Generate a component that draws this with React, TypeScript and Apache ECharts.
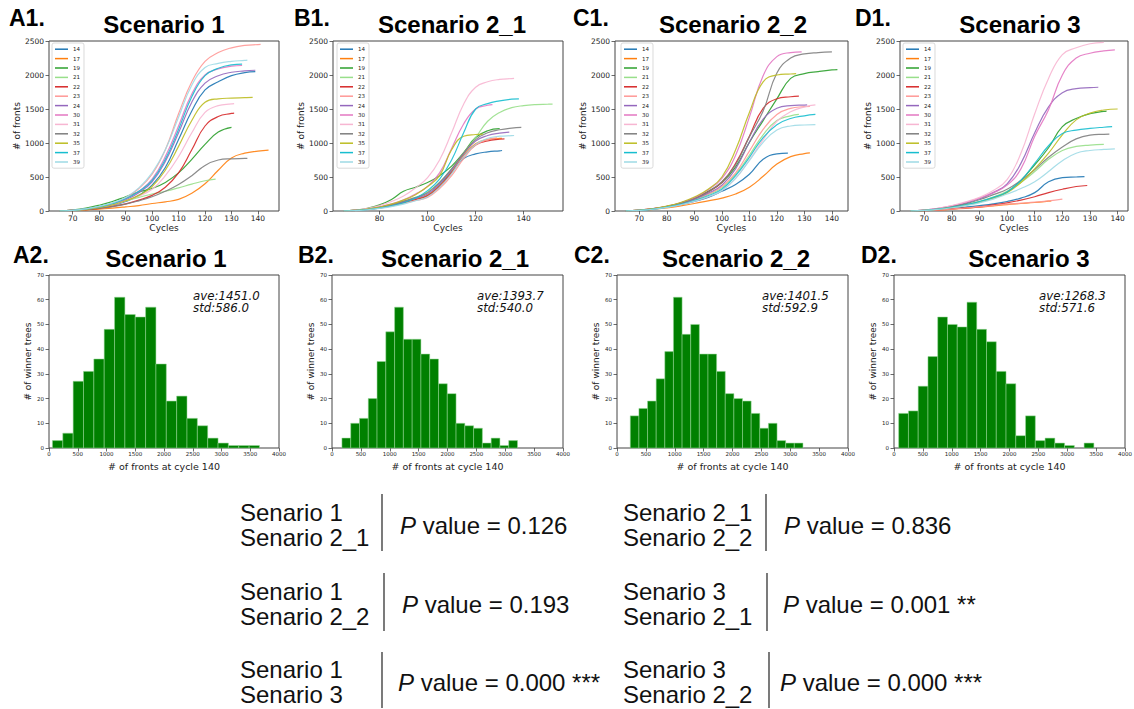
import React, { useEffect, useRef } from "react";
import * as echarts from "echarts";

// ---------- growth curves (# of fronts per cycle) ----------
const LINE_NAMES = ["14", "17", "19", "21", "22", "23", "24", "30", "31", "32", "35", "37", "39"];
const LINE_COLORS = [
  "#1f77b4", "#ff7f0e", "#2ca02c", "#98df8a", "#d62728", "#ff9896", "#9467bd",
  "#e377c2", "#f7b6d2", "#7f7f7f", "#bcbd22", "#17becf", "#9edae5",
];

// values are sampled every 5 cycles from cycle 65; the last entry of a row is the value at that tree's last cycle
const FIRST_CYCLE = 65;
const CYCLE_STEP = 5;

const S1_LAST_CYCLE = [139, 144, 130, 124, 131, 141, 139, 134, 131, 136, 138, 134, 136];
const S1_FRONTS = [
  [0, 8, 22, 48, 85, 140, 230, 380, 640, 1050, 1470, 1780, 1900, 1990, 2035, 2050],
  [0, 5, 14, 28, 42, 60, 80, 110, 135, 170, 260, 400, 600, 780, 850, 880, 895],
  [0, 15, 42, 85, 140, 210, 280, 330, 420, 560, 760, 980, 1160, 1230],
  [0, 10, 28, 60, 100, 150, 200, 250, 290, 340, 395, 445, 470],
  [0, 8, 20, 40, 68, 105, 160, 230, 350, 560, 900, 1250, 1390, 1435, 1440],
  [0, 10, 30, 62, 110, 190, 330, 540, 900, 1430, 1900, 2200, 2330, 2400, 2435, 2448, 2450],
  [0, 9, 26, 56, 100, 165, 270, 430, 730, 1150, 1600, 1880, 1990, 2040, 2060, 2070],
  [0, 10, 28, 60, 105, 175, 290, 470, 800, 1250, 1720, 2000, 2090, 2130, 2140],
  [0, 8, 24, 52, 90, 150, 220, 320, 520, 800, 1150, 1450, 1550, 1575, 1580],
  [0, 8, 20, 40, 65, 100, 150, 210, 290, 390, 520, 670, 750, 768, 773, 775],
  [0, 8, 24, 52, 90, 150, 230, 360, 600, 950, 1330, 1600, 1650, 1660, 1666, 1670],
  [0, 10, 30, 62, 110, 180, 290, 450, 760, 1200, 1680, 1990, 2100, 2150, 2160],
  [0, 10, 32, 68, 120, 200, 340, 560, 900, 1380, 1850, 2110, 2170, 2200, 2215, 2220],
];

const S21_LAST_CYCLE = [131, 131, 130, 152, 132, 129, 134, 127, 136, 139, 123, 138, 136];
const S21_FRONTS = [
  [0, 8, 25, 50, 85, 130, 180, 230, 380, 580, 770, 840, 870, 885, 890],
  [0, 8, 24, 48, 80, 125, 170, 230, 370, 570, 820, 990, 1050, 1068, 1070],
  [0, 12, 40, 90, 170, 290, 350, 420, 520, 660, 860, 1080, 1180, 1210],
  [0, 8, 24, 50, 85, 130, 190, 280, 420, 620, 850, 1080, 1320, 1450, 1520, 1550, 1565, 1570, 1572],
  [0, 7, 22, 45, 78, 120, 165, 220, 360, 560, 800, 970, 1030, 1055, 1060],
  [0, 7, 20, 42, 72, 110, 155, 200, 330, 520, 770, 970, 1050, 1075],
  [0, 8, 25, 52, 88, 135, 185, 250, 400, 600, 840, 1030, 1110, 1145, 1160],
  [0, 10, 30, 62, 105, 165, 250, 360, 560, 920, 1280, 1500, 1555, 1565],
  [0, 12, 38, 80, 140, 220, 340, 490, 750, 1150, 1570, 1820, 1900, 1935, 1948, 1950],
  [0, 8, 26, 55, 95, 145, 200, 270, 420, 620, 850, 1050, 1150, 1195, 1220, 1230],
  [0, 9, 28, 58, 100, 160, 240, 360, 520, 900, 1100, 1125, 1130],
  [0, 7, 20, 42, 75, 120, 190, 300, 470, 750, 1150, 1500, 1580, 1620, 1645, 1650],
  [0, 6, 18, 38, 65, 100, 150, 210, 350, 550, 800, 980, 1070, 1100, 1108, 1110],
];

const S22_LAST_CYCLE = [124, 132, 142, 128, 128, 132, 131, 129, 134, 140, 127, 134, 134];
const S22_FRONTS = [
  [0, 10, 28, 55, 90, 140, 200, 290, 390, 540, 760, 840, 850],
  [0, 8, 22, 45, 75, 110, 150, 190, 250, 350, 510, 690, 800, 845, 855],
  [0, 12, 32, 65, 115, 190, 290, 420, 650, 1010, 1330, 1650, 1950, 2020, 2050, 2075, 2080],
  [0, 10, 30, 60, 100, 160, 240, 340, 540, 820, 1120, 1330, 1400, 1420],
  [0, 12, 34, 68, 115, 185, 280, 420, 700, 1100, 1510, 1650, 1680, 1690],
  [0, 10, 30, 62, 105, 170, 250, 360, 560, 880, 1200, 1420, 1510, 1535, 1540],
  [0, 11, 32, 65, 110, 175, 260, 380, 620, 1010, 1350, 1510, 1550, 1558, 1560],
  [0, 12, 35, 70, 120, 195, 310, 480, 820, 1380, 1990, 2270, 2330, 2340],
  [0, 9, 26, 54, 90, 145, 210, 300, 480, 750, 1050, 1320, 1460, 1530, 1560],
  [0, 11, 32, 66, 112, 180, 280, 430, 680, 1090, 1470, 2030, 2250, 2310, 2330, 2340],
  [0, 13, 36, 72, 125, 205, 320, 500, 900, 1450, 1900, 2000, 2015, 2020],
  [0, 9, 28, 58, 98, 155, 225, 320, 520, 790, 1080, 1270, 1360, 1400, 1420],
  [0, 9, 26, 54, 92, 145, 210, 300, 480, 740, 1010, 1190, 1250, 1265, 1270],
];

const S3_LAST_CYCLE = [128, 116, 136, 135, 129, 120, 133, 139, 135, 137, 140, 138, 139];
const S3_FRONTS = [
  [0, 8, 20, 38, 58, 80, 105, 140, 190, 270, 430, 490, 500, 505],
  [0, 5, 14, 26, 40, 55, 75, 95, 110, 125, 145, 150],
  [0, 10, 28, 55, 90, 135, 195, 280, 450, 680, 930, 1240, 1360, 1430, 1465, 1470],
  [0, 10, 28, 56, 92, 140, 205, 290, 420, 580, 760, 890, 950, 970, 980],
  [0, 6, 16, 30, 45, 62, 90, 120, 160, 210, 270, 320, 360, 375],
  [0, 6, 15, 28, 44, 60, 80, 100, 115, 130, 150, 175],
  [0, 12, 34, 68, 115, 180, 270, 400, 700, 1150, 1530, 1740, 1800, 1815, 1820],
  [0, 13, 38, 75, 125, 190, 270, 380, 620, 1100, 1490, 2000, 2250, 2320, 2355, 2370],
  [0, 14, 40, 80, 135, 200, 300, 460, 850, 1430, 1950, 2300, 2400, 2460, 2480],
  [0, 10, 30, 62, 105, 165, 240, 320, 450, 610, 790, 940, 1060, 1115, 1128, 1130],
  [0, 9, 26, 52, 86, 130, 190, 270, 420, 620, 850, 1120, 1340, 1440, 1485, 1500],
  [0, 10, 28, 56, 92, 138, 200, 280, 450, 700, 960, 1140, 1190, 1215, 1232, 1240],
  [0, 9, 24, 48, 80, 120, 175, 250, 330, 430, 580, 740, 850, 890, 905, 915],
];

const CYCLE_TICKS_A = [70, 80, 90, 100, 110, 120, 130, 140];
const CYCLE_TICKS_B = [80, 100, 120, 140];

// ---------- histograms of fronts at cycle 140 ----------
const S1_BIN_START = 60;
const S1_BIN_WIDTH = 180;
const S1_COUNTS = [3, 6, 27, 31, 36, 48, 61, 54, 53, 57, 34, 19, 21, 12, 9, 4, 2, 1, 1, 1];
const S1_STATS = ["ave:1451.0", "std:586.0"];

const S21_BIN_START = 172;
const S21_BIN_WIDTH = 152;
const S21_COUNTS = [4, 10, 12, 20, 35, 47, 57, 44, 44, 38, 36, 26, 22, 10, 9, 8, 2, 4, 1, 3];
const S21_STATS = ["ave:1393.7", "std:540.0"];

const S22_BIN_START = 230;
const S22_BIN_WIDTH = 149.5;
const S22_COUNTS = [13, 16, 19, 28, 39, 61, 46, 50, 38, 38, 31, 22, 20, 19, 14, 8, 10, 3, 2, 2];
const S22_STATS = ["ave:1401.5", "std:592.9"];

const S3_BIN_START = 81;
const S3_BIN_WIDTH = 169;
const S3_COUNTS = [14, 15, 25, 37, 53, 50, 49, 59, 48, 43, 31, 26, 5, 13, 3, 4, 2, 1, 0, 2];
const S3_STATS = ["ave:1268.3", "std:571.6"];

// ---------- panel headings ----------
const SCENARIO_TITLES = ["Scenario 1", "Scenario 2_1", "Scenario 2_2", "Scenario 3"];
const TOP_TAGS = ["A1.", "B1.", "C1.", "D1."];
const BOTTOM_TAGS = ["A2.", "B2.", "C2.", "D2."];

// ---------- pairwise tests ----------
const LEFT_PAIRS = [
  ["Senario 1", "Senario 2_1"],
  ["Senario 1", "Senario 2_2"],
  ["Senario 1", "Senario 3"],
];
const LEFT_P = ["0.126", "0.193", "0.000 ***"];
const RIGHT_PAIRS = [
  ["Senario 2_1", "Senario 2_2"],
  ["Senario 3", "Senario 2_1"],
  ["Senario 3", "Senario 2_2"],
];
const RIGHT_P = ["0.836", "0.001 **", "0.000 ***"];

// ---------- layout ----------
const LINE_GRIDS = [
  { left: 49, top: 41, width: 230, height: 170 },
  { left: 333, top: 41, width: 230, height: 170 },
  { left: 615, top: 41, width: 233, height: 170 },
  { left: 900, top: 41, width: 228, height: 170 },
];
const LEGEND_LEFT = [52, 337, 621, 903];
const HIST_GRIDS = [
  { left: 49, top: 275, width: 230, height: 173 },
  { left: 332, top: 275, width: 231, height: 173 },
  { left: 617, top: 275, width: 231, height: 173 },
  { left: 894, top: 275, width: 231, height: 173 },
];

const MPL_FONT = "DejaVu Sans";
const HEAD_FONT = "Liberation Sans";
const FRAME = "#444";

function toPoints(lastCycles: number[], rows: number[][]) {
  return rows.map((vals, k) => {
    const pts = vals.slice(0, -1).map((v, i) => [FIRST_CYCLE + CYCLE_STEP * i, v]);
    pts.push([lastCycles[k], vals[vals.length - 1]]);
    return pts;
  });
}

function toBins(start: number, width: number, counts: number[]) {
  return counts.map((c, i) => [start + i * width, start + (i + 1) * width, c]);
}

const plainNumber = (v: number) => String(v);

function buildOption() {
  const curves = [
    { last: S1_LAST_CYCLE, rows: S1_FRONTS, ticks: CYCLE_TICKS_A },
    { last: S21_LAST_CYCLE, rows: S21_FRONTS, ticks: CYCLE_TICKS_B },
    { last: S22_LAST_CYCLE, rows: S22_FRONTS, ticks: CYCLE_TICKS_A },
    { last: S3_LAST_CYCLE, rows: S3_FRONTS, ticks: CYCLE_TICKS_A },
  ];
  const hists = [
    { bins: toBins(S1_BIN_START, S1_BIN_WIDTH, S1_COUNTS), stats: S1_STATS },
    { bins: toBins(S21_BIN_START, S21_BIN_WIDTH, S21_COUNTS), stats: S21_STATS },
    { bins: toBins(S22_BIN_START, S22_BIN_WIDTH, S22_COUNTS), stats: S22_STATS },
    { bins: toBins(S3_BIN_START, S3_BIN_WIDTH, S3_COUNTS), stats: S3_STATS },
  ];

  const grid: any[] = [];
  const xAxis: any[] = [];
  const yAxis: any[] = [];
  const series: any[] = [];
  const legend: any[] = [];

  const tickLabel = (size: number, margin: number) => ({
    fontFamily: MPL_FONT,
    fontSize: size,
    color: "#222",
    margin,
    formatter: plainNumber,
  });
  const tickStyle = { show: true, length: 3.5, lineStyle: { color: FRAME, width: 0.8 } };

  curves.forEach((c, p) => {
    const g = LINE_GRIDS[p];
    grid.push({
      ...g,
      show: true,
      borderColor: FRAME,
      borderWidth: 1,
      backgroundColor: "transparent",
      containLabel: false,
      outerBoundsMode: "none",
    });
    // matplotlib-style 5% padding on the cycle range
    const lo = FIRST_CYCLE;
    const hi = Math.max(...c.last);
    const pad = (hi - lo) * 0.05;
    xAxis.push({
      type: "value",
      gridIndex: p,
      min: lo - pad,
      max: hi + pad,
      name: "Cycles",
      nameLocation: "middle",
      nameGap: 12.5,
      nameTextStyle: { fontFamily: MPL_FONT, fontSize: 9, color: "#222" },
      axisLine: { show: false },
      axisTick: { ...tickStyle, customValues: c.ticks },
      axisLabel: { ...tickLabel(7.5, 3), customValues: c.ticks },
      splitLine: { show: false },
    });
    yAxis.push({
      type: "value",
      gridIndex: p,
      min: 0,
      max: 2500,
      interval: 500,
      name: "# of fronts",
      nameLocation: "middle",
      nameGap: 26.5,
      nameTextStyle: { fontFamily: MPL_FONT, fontSize: 9, color: "#222" },
      axisLine: { show: false },
      axisTick: tickStyle,
      axisLabel: tickLabel(7.5, 5),
      splitLine: { show: false },
    });
    toPoints(c.last, c.rows).forEach((pts, k) => {
      series.push({
        type: "line",
        name: LINE_NAMES[k],
        xAxisIndex: p,
        yAxisIndex: p,
        data: pts,
        showSymbol: false,
        symbol: "none",
        smooth: 0.45,
        color: LINE_COLORS[k],
        lineStyle: { width: 1.2, opacity: 0.9 },
        silent: true,
        z: 2,
      });
    });
    legend.push({
      orient: "vertical",
      left: LEGEND_LEFT[p],
      top: g.top + 2,
      data: LINE_NAMES,
      icon: "rect",
      itemWidth: 13,
      itemHeight: 1.5,
      itemGap: 0,
      padding: [1.5, 4, 1.5, 3],
      textStyle: { fontFamily: MPL_FONT, fontSize: 5.5, lineHeight: 9.4, color: "#222" },
      borderColor: "#d0d0d0",
      borderWidth: 0.8,
      borderRadius: 2,
      backgroundColor: "rgba(255,255,255,0.8)",
      selectedMode: false,
      z: 5,
    });
  });

  hists.forEach((h, p) => {
    const gi = 4 + p;
    grid.push({
      ...HIST_GRIDS[p],
      show: true,
      borderColor: FRAME,
      borderWidth: 1,
      backgroundColor: "transparent",
      containLabel: false,
      outerBoundsMode: "none",
    });
    xAxis.push({
      type: "value",
      gridIndex: gi,
      min: 0,
      max: 4000,
      interval: 500,
      name: "# of fronts at cycle 140",
      nameLocation: "middle",
      nameGap: 13,
      nameTextStyle: { fontFamily: MPL_FONT, fontSize: 9.5, color: "#222" },
      axisLine: { show: false },
      axisTick: tickStyle,
      axisLabel: tickLabel(5.5, 3),
      splitLine: { show: false },
    });
    yAxis.push({
      type: "value",
      gridIndex: gi,
      min: 0,
      max: 70,
      interval: 10,
      name: "# of winner trees",
      nameLocation: "middle",
      nameGap: 16.5,
      nameTextStyle: { fontFamily: MPL_FONT, fontSize: 9, color: "#222" },
      axisLine: { show: false },
      axisTick: tickStyle,
      axisLabel: tickLabel(5.5, 5),
      splitLine: { show: false },
    });
    series.push({
      type: "custom",
      xAxisIndex: gi,
      yAxisIndex: gi,
      data: h.bins,
      encode: { x: [0, 1], y: 2 },
      silent: true,
      renderItem: (_params: any, api: any) => {
        if (api.value(2) <= 0) return null;
        const base = api.coord([api.value(0), 0]);
        const top = api.coord([api.value(1), api.value(2)]);
        return {
          type: "rect",
          shape: { x: base[0], y: top[1], width: top[0] - base[0], height: base[1] - top[1] },
          style: { fill: "#008000", stroke: "rgba(150,215,150,0.75)", lineWidth: 0.7 },
        };
      },
    });
  });

  // headings, statistics and the test table
  const graphic: any[] = [];
  const text = (x: number, y: number, t: string, style: any) => ({
    type: "text",
    x,
    y,
    silent: true,
    style: { text: t, fill: "#000", verticalAlign: "middle", ...style },
  });
  const tagStyle = { fontFamily: HEAD_FONT, fontWeight: "bold", fontSize: 23, align: "left" };
  const titleStyle = { fontFamily: HEAD_FONT, fontWeight: "bold", fontSize: 24, align: "center" };

  const topTagX = [9, 294, 573, 855];
  const topTitleX = [164, 452, 733, 1020];
  const botTagX = [13, 298, 574, 861];
  const botTitleX = [166, 455, 736, 1029];
  TOP_TAGS.forEach((t, i) => graphic.push(text(topTagX[i], 18, t, tagStyle)));
  SCENARIO_TITLES.forEach((t, i) => graphic.push(text(topTitleX[i], 24, t, titleStyle)));
  BOTTOM_TAGS.forEach((t, i) => graphic.push(text(botTagX[i], 255, t, tagStyle)));
  SCENARIO_TITLES.forEach((t, i) => graphic.push(text(botTitleX[i], 258, t, titleStyle)));

  // mean / std note beneath each other
  const statX = [193, 477, 762, 1039];
  const statY = [295.5, 308];
  hists.forEach((h, i) => {
    h.stats.forEach((s, j) =>
      graphic.push(
        text(statX[i], statY[j], s, {
          fontFamily: MPL_FONT,
          fontStyle: "italic",
          fontSize: 11.8,
          lineHeight: 11.8,
          fill: "#111",
          align: "left",
        })
      )
    );
  });

  const tableFont = { fontFamily: HEAD_FONT, fontSize: 24, fill: "#111", align: "left" };
  const rowNameY = [[512, 537], [591, 616], [669, 694]];
  const rowPY = [525, 604, 682];
  const leftBar = [[382, 494, 551], [384, 573, 631], [382, 652, 708]];
  const rightBar = [[766, 494, 551], [767, 573, 631], [769, 652, 708]];
  const leftPX = [400, 402, 398];
  const rightPX = [784, 783, 780];
  const pText = (x: number, y: number, v: string) => ({
    type: "text",
    x,
    y,
    silent: true,
    style: {
      text: "{i|P} value = " + v,
      ...tableFont,
      verticalAlign: "middle",
      rich: { i: { fontFamily: HEAD_FONT, fontSize: 24, fontStyle: "italic", fill: "#111" } },
    },
  });
  const bar = (b: number[]) => ({
    type: "line",
    silent: true,
    shape: { x1: b[0], y1: b[1], x2: b[0], y2: b[2] },
    style: { stroke: "#222", lineWidth: 1.2 },
  });
  for (let r = 0; r < 3; r++) {
    LEFT_PAIRS[r].forEach((n, j) => graphic.push(text(240, rowNameY[r][j], n, tableFont)));
    RIGHT_PAIRS[r].forEach((n, j) => graphic.push(text(623, rowNameY[r][j], n, tableFont)));
    graphic.push(bar(leftBar[r]));
    graphic.push(bar(rightBar[r]));
    graphic.push(pText(leftPX[r], rowPY[r], LEFT_P[r]));
    graphic.push(pText(rightPX[r], rowPY[r], RIGHT_P[r]));
  }

  return {
    animation: false,
    backgroundColor: "#ffffff",
    grid,
    xAxis,
    yAxis,
    series,
    legend,
    graphic,
  };
}

export default function App() {
  const ref = useRef<HTMLDivElement>(null);
  useEffect(() => {
    if (!ref.current) return;
    const chart = echarts.init(ref.current, undefined, { renderer: "svg" });
    chart.setOption(buildOption() as any);
    return () => chart.dispose();
  }, []);
  return (
    <div
      ref={ref}
      style={{ position: "fixed", left: 0, top: 0, width: 1134, height: 709, background: "#fff" }}
    />
  );
}
